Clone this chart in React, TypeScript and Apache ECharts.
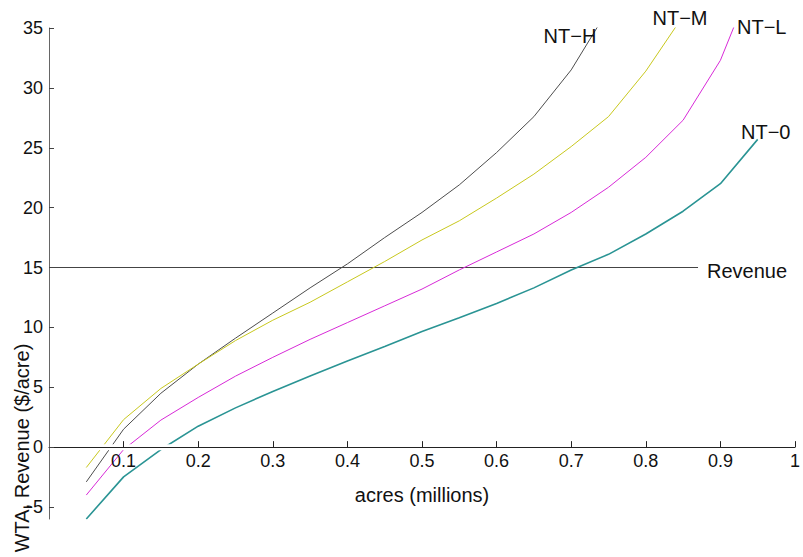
import React, { useEffect, useRef } from "react";
import * as echarts from "echarts";

// acres (millions) at which each curve is sampled
const xs = [0.05, 0.1, 0.15, 0.2, 0.25, 0.3, 0.35, 0.4, 0.45, 0.5, 0.55, 0.6, 0.65, 0.7, 0.75, 0.8, 0.85, 0.9, 0.95];

// WTA ($/acre) per scenario
const ntH = [-2.9, 1.5, 4.5, 6.93, 9.1, 11.2, 13.3, 15.3, 17.5, 19.6, 21.9, 24.6, 27.6, 31.5, 36.6];
const ntM = [-1.7, 2.3, 4.9, 6.93, 8.9, 10.6, 12.1, 13.8, 15.5, 17.3, 18.9, 20.8, 22.8, 25.1, 27.6, 31.4, 36.0];
const ntL = [-4.0, -0.2, 2.26, 4.15, 5.93, 7.5, 9.0, 10.4, 11.8, 13.2, 14.8, 16.3, 17.8, 19.6, 21.7, 24.2, 27.3, 32.3, 40.0];
const nt0 = [-6.0, -2.48, -0.2, 1.75, 3.28, 4.65, 5.95, 7.2, 8.4, 9.65, 10.8, 12.0, 13.3, 14.8, 16.1, 17.8, 19.7, 22.0, 25.7];

// Revenue line
const revenueX = [0, 0.87];
const revenueY = [15, 15];

// tick labels
const xTicks = [0.1, 0.2, 0.3, 0.4, 0.5, 0.6, 0.7, 0.8, 0.9, 1];
const yTicks = [-5, 0, 5, 10, 15, 20, 25, 30, 35];

const FONT = '"Liberation Sans", Arial, Helvetica, sans-serif';

const pairs = (ys: number[]) => ys.map((y, i) => [xs[i], y]);
const fmt = (v: number) => (v < 0 ? "\u2212" + String(-v) : String(v));

export default function App() {
  const ref = useRef<HTMLDivElement>(null);
  useEffect(() => {
    document.body.style.margin = "0";
    if (!ref.current) return;
    const chart = echarts.init(ref.current, undefined, { renderer: "svg" });
    const lineSeries = (name: string, ys: number[], color: string, width: number) => ({
      name,
      type: "line",
      data: pairs(ys),
      symbol: "none",
      clip: true,
      lineStyle: { color, width },
      z: 2,
      silent: true,
    });
    chart.setOption({
      animation: false,
      backgroundColor: "#fff",
      textStyle: { fontFamily: FONT },
      grid: { left: 49, right: 8, top: 28, bottom: 38, containLabel: false, outerBoundsMode: "none" },
      xAxis: {
        type: "value",
        min: 0,
        max: 1,
        z: 10,
        axisLine: { show: true, onZero: true, lineStyle: { color: "#222", width: 1 } },
        axisTick: { show: true, inside: true, length: 6, customValues: xTicks, lineStyle: { color: "#222" } },
        axisLabel: { show: false },
        splitLine: { show: false },
      },
      yAxis: {
        type: "value",
        min: -6,
        max: 35,
        z: 10,
        axisLine: { show: true, onZero: false, lineStyle: { color: "#666", width: 1 } },
        axisTick: { show: true, inside: true, length: 5, customValues: yTicks, lineStyle: { color: "#444" } },
        axisLabel: { customValues: yTicks, fontSize: 18, color: "#111", margin: 6, fontFamily: FONT, formatter: (v: number) => fmt(v) },
        splitLine: { show: false },
      },
      series: [
        {
          type: "line",
          data: [[0, 0], [1, 0]],
          symbol: "none",
          lineStyle: { color: "#fff", width: 6 },
          z: 3,
          silent: true,
        },
        {
          name: "Revenue",
          type: "line",
          data: revenueX.map((x, i) => [x, revenueY[i]]),
          symbol: "none",
          lineStyle: { color: "#444", width: 1.2 },
          z: 2,
          silent: true,
        },
        lineSeries("NT-H", ntH, "#4d4d4d", 1),
        lineSeries("NT-M", ntM, "#c8c81e", 1),
        lineSeries("NT-L", ntL, "#d82ad8", 1),
        lineSeries("NT-0", nt0, "#2a9494", 1.6),
      ],
    });

    // x tick labels and axis name placed along the zero line via the axis scales
    const y0 = chart.convertToPixel({ yAxisIndex: 0 }, 0) as number;
    const xMid = chart.convertToPixel({ xAxisIndex: 0 }, 0.5) as number;
    const tickTexts = xTicks.map((v) => ({
      type: "text",
      x: chart.convertToPixel({ xAxisIndex: 0 }, v) as number,
      y: y0 + 5,
      z: 100,
      style: { text: fmt(v), fontSize: 18, fontFamily: FONT, fill: "#111", align: "center", verticalAlign: "top" },
    }));

    chart.setOption({
      graphic: [
        ...tickTexts,
        { type: "text", x: xMid, y: y0 + 38, z: 100, style: { text: "acres (millions)", fontSize: 20, fontFamily: FONT, fill: "#111", align: "center", verticalAlign: "top" } },
        { type: "text", x: 570, y: 36, z: 100, style: { text: "NT\u2212H", fontSize: 20, fontFamily: FONT, fill: "#111", align: "center", verticalAlign: "middle" } },
        { type: "text", x: 680, y: 18, z: 100, style: { text: "NT\u2212M", fontSize: 20, fontFamily: FONT, fill: "#111", align: "center", verticalAlign: "middle" } },
        { type: "text", x: 737, y: 27, z: 100, style: { text: "NT\u2212L", fontSize: 20, fontFamily: FONT, fill: "#111", align: "left", verticalAlign: "middle" } },
        { type: "text", x: 741, y: 132, z: 100, style: { text: "NT\u22120", fontSize: 20, fontFamily: FONT, fill: "#111", align: "left", verticalAlign: "middle" } },
        { type: "text", x: 707, y: 271, z: 100, style: { text: "Revenue", fontSize: 20, fontFamily: FONT, fill: "#111", align: "left", verticalAlign: "middle" } },
        { type: "text", x: 22, y: 448, rotation: Math.PI / 2, z: 100, style: { text: "WTA, Revenue ($/acre)", fontSize: 20, fontFamily: FONT, fill: "#111", align: "center", verticalAlign: "middle" } },
      ],
    });
    return () => chart.dispose();
  }, []);
  return <div ref={ref} style={{ width: 803, height: 557 }} />;
}
